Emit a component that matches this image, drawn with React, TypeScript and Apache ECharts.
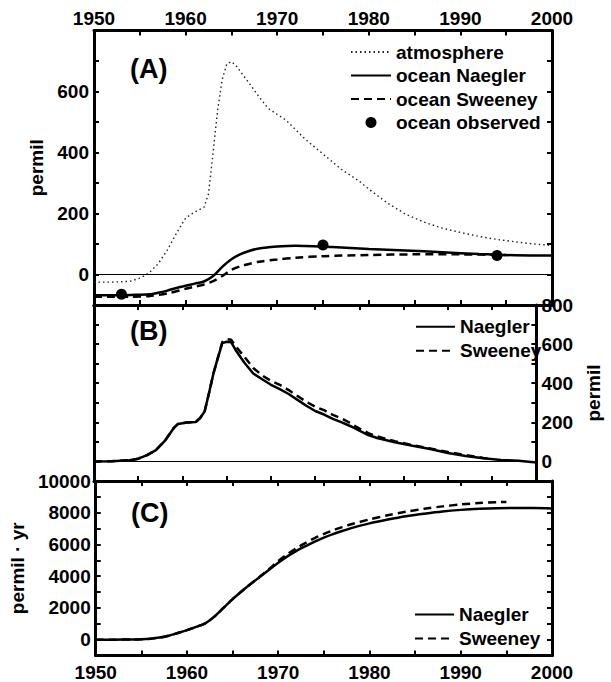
import React, { useEffect, useRef } from "react";
import * as echarts from "echarts";

// ---------- data ----------
const X_TICK_LABELS = ["1950", "1960", "1970", "1980", "1990", "2000"];

// Panel A: atmosphere (dotted)
const ATM_YEARS = [1950, 1952, 1954, 1955, 1956, 1957, 1958, 1959, 1960, 1961, 1962, 1962.5, 1963, 1963.5, 1964, 1964.5, 1965, 1965.5, 1966, 1967, 1968, 1969, 1970, 1971, 1972, 1973, 1974, 1975, 1976, 1977, 1978, 1979, 1980, 1982, 1984, 1986, 1988, 1990, 1992, 1994, 1996, 1998, 2000];
const ATM_VALUES = [-25, -25, -22, -12, 5, 35, 80, 135, 185, 205, 220, 265, 400, 540, 640, 690, 698, 685, 665, 625, 583, 545, 525, 505, 475, 445, 420, 395, 370, 345, 325, 305, 280, 235, 198, 172, 152, 138, 125, 115, 107, 100, 95];

// Panel A: ocean Naegler (solid)
const A_N_YEARS = [1950, 1952, 1954, 1956, 1957, 1958, 1959, 1960, 1961, 1962, 1963, 1964, 1965, 1966, 1967, 1968, 1969, 1970, 1972, 1974, 1976, 1978, 1980, 1984, 1988, 1992, 1996, 2000];
const A_NAEGLER = [-68, -68, -67, -65, -60, -53, -44, -37, -30, -23, -5, 25, 50, 67, 78, 85, 89, 92, 94, 93, 90, 87, 84, 79, 73, 67, 63, 62];

// Panel A: ocean Sweeney (dashed)
const A_S_YEARS = [1950, 1952, 1954, 1956, 1958, 1960, 1961, 1962, 1963, 1964, 1965, 1966, 1967, 1968, 1970, 1972, 1975, 1980, 1985, 1990, 1995];
const A_SWEENEY = [-73, -73, -73, -71, -62, -47, -40, -33, -22, -5, 15, 27, 35, 42, 49, 55, 60, 64, 66, 66, 64];

// Panel A: ocean observed (dots)
const OBS_YEARS = [1953, 1975, 1994];
const OBS_VALUES = [-65, 97, 62];

// Panel B
const B_N_YEARS = [1950, 1952, 1954, 1955, 1956, 1957, 1958, 1959, 1959.5, 1960.5, 1961.5, 1962, 1962.5, 1963, 1963.5, 1964, 1964.5, 1965, 1965.5, 1966, 1967, 1968, 1969, 1970, 1971, 1972, 1973, 1974, 1975, 1976, 1977, 1978, 1979, 1980, 1981, 1982, 1984, 1986, 1988, 1990, 1992, 1994, 1996, 1998, 2000];
const B_NAEGLER = [0, 1, 6, 14, 32, 58, 105, 170, 192, 199, 202, 222, 255, 350, 450, 530, 605, 612, 610, 570, 505, 450, 420, 392, 370, 345, 315, 285, 258, 240, 218, 200, 180, 158, 135, 120, 98, 80, 64, 43, 28, 16, 8, 3, -5];
const B_S_YEARS = [1950, 1952, 1954, 1955, 1956, 1957, 1958, 1959, 1959.5, 1960.5, 1961.5, 1962, 1962.5, 1963, 1963.5, 1964, 1964.5, 1965, 1965.5, 1966, 1967, 1968, 1969, 1970, 1971, 1972, 1973, 1974, 1975, 1976, 1977, 1978, 1979, 1980, 1981, 1982, 1984, 1986, 1988, 1990, 1992, 1994, 1995];
const B_SWEENEY = [0, 1, 6, 14, 32, 58, 105, 170, 192, 199, 202, 222, 255, 350, 450, 530, 610, 625, 622, 590, 535, 478, 440, 412, 392, 365, 335, 305, 280, 262, 238, 220, 195, 168, 145, 128, 103, 84, 66, 48, 32, 18, 14];

// Panel C
const C_N_YEARS = [1950, 1952, 1954, 1955, 1956, 1957, 1958, 1959, 1960, 1961, 1962, 1963, 1964, 1965, 1966, 1967, 1968, 1969, 1970, 1971, 1972, 1973, 1974, 1975, 1976, 1977, 1978, 1980, 1982, 1984, 1986, 1988, 1990, 1992, 1994, 1996, 1998, 2000];
const C_NAEGLER = [0, 0, 5, 20, 60, 130, 250, 420, 600, 800, 1030, 1450, 2000, 2550, 3050, 3520, 3960, 4400, 4850, 5250, 5600, 5900, 6180, 6430, 6650, 6850, 7030, 7330, 7570, 7780, 7940, 8080, 8180, 8250, 8290, 8300, 8300, 8270];
const C_S_YEARS = [1950, 1952, 1954, 1955, 1956, 1957, 1958, 1959, 1960, 1961, 1962, 1963, 1964, 1965, 1966, 1967, 1968, 1969, 1970, 1971, 1972, 1973, 1974, 1975, 1976, 1977, 1978, 1980, 1982, 1984, 1986, 1988, 1990, 1992, 1994, 1995];
const C_SWEENEY = [0, 0, 5, 20, 60, 130, 250, 420, 600, 800, 1030, 1450, 2000, 2550, 3050, 3520, 3980, 4450, 4950, 5380, 5770, 6100, 6400, 6660, 6890, 7090, 7270, 7580, 7840, 8060, 8250, 8400, 8520, 8610, 8660, 8680];

const zip = (xs: number[], ys: number[]) => xs.map((x, i) => [x, ys[i]]);

const FONT = "'Liberation Sans', Arial, Helvetica, sans-serif";
const BLACK = "#000";

export default function App() {
  const ref = useRef<HTMLDivElement>(null);

  useEffect(() => {
    document.body.style.margin = "0";
    const chart = echarts.init(ref.current!, undefined, { renderer: "svg" });

    const labelStyle = { color: BLACK, fontSize: 19, fontWeight: "bold" as const, fontFamily: FONT };
    const axisLine = { show: true, onZero: false, lineStyle: { color: BLACK, width: 3 } };
    const axisTick = { show: true, inside: true, length: 5, lineStyle: { color: BLACK, width: 2 } };

    const grids = [
      { left: 94, right: 59, top: 30.5, height: 274.5 },
      { left: 94, right: 59, top: 305, height: 176 },
      { left: 94, right: 59, top: 481, height: 175.5 },
    ];

    const mkX = (gridIndex: number, position: "top" | "bottom", showLabels: boolean, margin: number) => ({
      type: "value",
      gridIndex,
      position,
      min: 1950,
      max: 2000,
      interval: 5,
      axisLine,
      axisTick,
      splitLine: { show: false },
      axisLabel: {
        show: showLabels,
        ...labelStyle,
        margin,
        showMinLabel: true,
        showMaxLabel: true,
        formatter: (v: number) => {
          const s = String(v);
          return X_TICK_LABELS.includes(s) ? s : "";
        },
      },
    });

    const mkY = (
      gridIndex: number,
      position: "left" | "right",
      min: number,
      max: number,
      interval: number,
      showLabels: boolean,
      fmt: (v: number) => string,
      name?: string,
      nameGap?: number
    ) => ({
      type: "value",
      gridIndex,
      position,
      min,
      max,
      interval,
      axisLine,
      axisTick,
      splitLine: { show: false },
      axisLabel: { show: showLabels, ...labelStyle, margin: 5, showMinLabel: true, showMaxLabel: true, formatter: fmt },
      name: name || "",
      nameLocation: "middle",
      nameGap: nameGap || 0,
      nameRotate: 90,
      nameTextStyle: { ...labelStyle },
    });

    const fmtA = (v: number) => (v >= 0 && v <= 600 && v % 200 === 0 ? String(v) : "");
    const fmtB = (v: number) => (v >= 0 && v % 200 === 0 ? String(v) : "");
    const fmtC = (v: number) => (v >= 0 && v % 2000 === 0 ? String(v) : "");

    const solid = { color: BLACK, width: 2.5, type: "solid" as const };
    const dashed = { color: BLACK, width: 2.5, type: [8, 5] };
    const zeroLine = {
      silent: true,
      symbol: "none",
      label: { show: false },
      lineStyle: { color: BLACK, width: 1, type: "solid" },
      data: [{ yAxis: 0 }],
    };

    const legendBase = {
      orient: "vertical",
      padding: 0,
      itemWidth: 40,
      itemHeight: 11,
      itemGap: 3.5,
      selectedMode: false,
      textStyle: { ...labelStyle, lineHeight: 20 },
    };
    // line-series legend entries: show only the line, hide the centre marker
    const lineItem = (name: string) => ({ name, itemStyle: { opacity: 0 } });

    const option = {
      animation: false,
      backgroundColor: "#fff",
      grid: grids,
      xAxis: [
        mkX(0, "top", true, 3),
        mkX(0, "bottom", false, 8),
        mkX(1, "top", false, 8),
        mkX(1, "bottom", false, 8),
        mkX(2, "top", false, 8),
        mkX(2, "bottom", true, 7.5),
      ],
      yAxis: [
        mkY(0, "left", -100, 800, 100, true, fmtA, "permil", 40),
        mkY(0, "right", -100, 800, 100, false, fmtA),
        mkY(1, "left", -100, 800, 100, false, fmtB),
        mkY(1, "right", -100, 800, 100, true, fmtB, "permil", 42),
        mkY(2, "left", -1000, 10000, 1000, true, fmtC, "permil \u00b7 yr", 64),
        mkY(2, "right", -1000, 10000, 1000, false, fmtC),
      ],
      legend: [
        {
          ...legendBase,
          left: 350,
          top: 42,
          data: [
            lineItem("atmosphere"),
            lineItem("ocean Naegler"),
            lineItem("ocean Sweeney"),
            { name: "ocean observed", itemStyle: { opacity: 1, color: BLACK } },
          ],
        },
        { ...legendBase, itemWidth: 39, itemGap: 4, left: 415, top: 316.7, data: [lineItem("Naegler"), lineItem("Sweeney")] },
        { ...legendBase, itemWidth: 39, itemGap: 4, left: 414, top: 604.5, data: [lineItem("Naegler"), lineItem("Sweeney")] },
      ],
      graphic: [
        { type: "text", left: 130, top: 55, style: { text: "(A)", fill: BLACK, font: `bold 27px ${FONT}` } },
        { type: "text", left: 130, top: 317, style: { text: "(B)", fill: BLACK, font: `bold 27px ${FONT}` } },
        { type: "text", left: 131, top: 499, style: { text: "(C)", fill: BLACK, font: `bold 27px ${FONT}` } },
      ],
      series: [
        {
          name: "atmosphere",
          type: "line",
          xAxisIndex: 0,
          yAxisIndex: 0,
          symbol: "none",
          color: "#222",
          lineStyle: { color: "#222", width: 1.4, type: [1.5, 3] },
          data: zip(ATM_YEARS, ATM_VALUES),
          markLine: zeroLine,
        },
        {
          name: "ocean Naegler",
          type: "line",
          xAxisIndex: 0,
          yAxisIndex: 0,
          symbol: "none",
          smooth: 0.3,
          color: BLACK,
          lineStyle: solid,
          data: zip(A_N_YEARS, A_NAEGLER),
        },
        {
          name: "ocean Sweeney",
          type: "line",
          xAxisIndex: 0,
          yAxisIndex: 0,
          symbol: "none",
          smooth: 0.3,
          color: BLACK,
          lineStyle: dashed,
          data: zip(A_S_YEARS, A_SWEENEY),
        },
        {
          name: "ocean observed",
          type: "scatter",
          xAxisIndex: 0,
          yAxisIndex: 0,
          symbol: "circle",
          symbolSize: 11,
          itemStyle: { color: BLACK, opacity: 1 },
          data: zip(OBS_YEARS, OBS_VALUES),
          z: 5,
        },
        {
          name: "Naegler",
          type: "line",
          xAxisIndex: 2,
          yAxisIndex: 3,
          symbol: "none",
          color: BLACK,
          lineStyle: solid,
          data: zip(B_N_YEARS, B_NAEGLER),
          markLine: zeroLine,
        },
        {
          name: "Sweeney",
          type: "line",
          xAxisIndex: 2,
          yAxisIndex: 3,
          symbol: "none",
          color: BLACK,
          lineStyle: dashed,
          data: zip(B_S_YEARS, B_SWEENEY),
        },
        {
          name: "Naegler",
          type: "line",
          xAxisIndex: 5,
          yAxisIndex: 4,
          symbol: "none",
          smooth: 0.3,
          color: BLACK,
          lineStyle: solid,
          data: zip(C_N_YEARS, C_NAEGLER),
        },
        {
          name: "Sweeney",
          type: "line",
          xAxisIndex: 5,
          yAxisIndex: 4,
          symbol: "none",
          smooth: 0.3,
          color: BLACK,
          lineStyle: dashed,
          data: zip(C_S_YEARS, C_SWEENEY),
        },
      ],
    };

    chart.setOption(option as any);
    return () => chart.dispose();
  }, []);

  return <div ref={ref} style={{ position: "absolute", left: 0, top: 0, width: 611, height: 682 }} />;
}
